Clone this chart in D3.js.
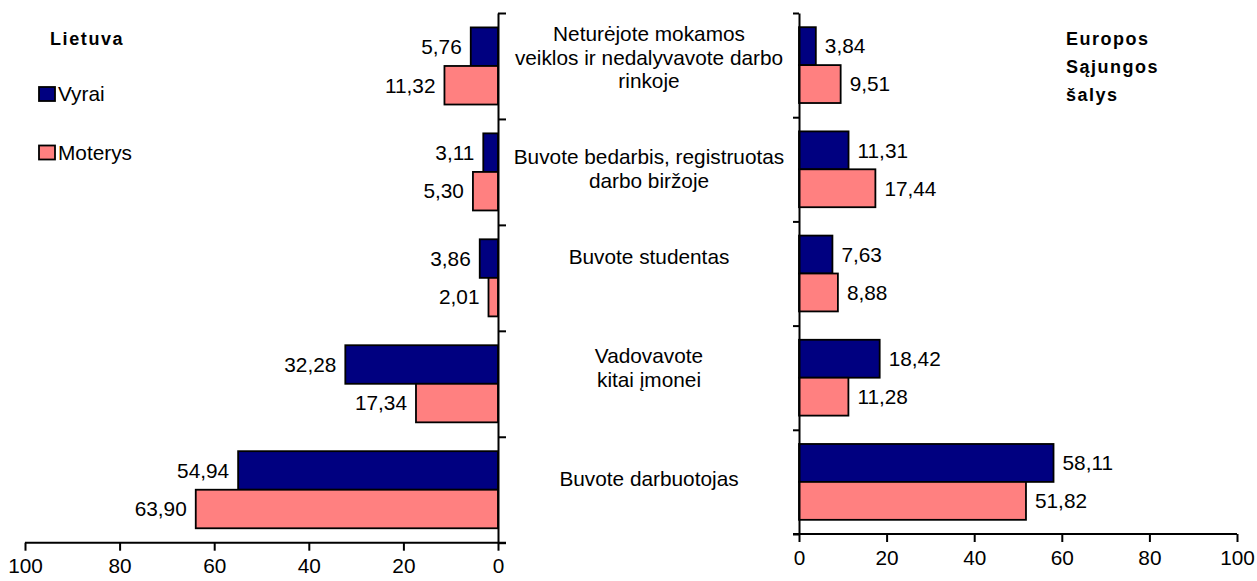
<!DOCTYPE html>
<html>
<head>
<meta charset="utf-8">
<script src="https://cdn.jsdelivr.net/npm/d3@7"></script>
<style>
  html, body { margin: 0; padding: 0; background: #fff; }
  svg { display: block; font-family: "Liberation Sans", Arial, sans-serif; }
</style>
</head>
<body>
<svg id="chart" width="1257" height="581"></svg>
<script>
// ---- data ----
const categories = [
  "Neturėjote mokamos veiklos ir nedalyvavote darbo rinkoje",
  "Buvote bedarbis, registruotas darbo biržoje",
  "Buvote studentas",
  "Vadovavote kitai įmonei",
  "Buvote darbuotojas"
];
const categoryLines = [
  ["Neturėjote mokamos", "veiklos ir nedalyvavote darbo", "rinkoje"],
  ["Buvote bedarbis, registruotas", "darbo biržoje"],
  ["Buvote studentas"],
  ["Vadovavote", "kitai įmonei"],
  ["Buvote darbuotojas"]
];
const series = ["Vyrai", "Moterys"];
const ltVyrai   = [5.76, 3.11, 3.86, 32.28, 54.94];
const ltMoterys = [11.32, 5.30, 2.01, 17.34, 63.90];
const esVyrai   = [3.84, 11.31, 7.63, 18.42, 58.11];
const esMoterys = [9.51, 17.44, 8.88, 11.28, 51.82];
const xTicks = [0, 20, 40, 60, 80, 100];
const leftTitle = "Lietuva";
const rightTitle = ["Europos", "Sąjungos", "šalys"];

// ---- layout ----
const colors = { "Vyrai": "#000080", "Moterys": "#FF8080" };
const svg = d3.select("#chart");
const FONT = 20.8;
const fmt = v => d3.format(".2f")(v).replace(".", ",");

function panel(opts) {
  const { x, yTop, yBottom, valuesV, valuesM, side } = opts;
  const y = d3.scaleBand().domain(categories).range([yTop, yBottom]).paddingInner(0).paddingOuter(0);
  const yS = d3.scaleBand().domain(series).range([0, y.bandwidth()]).paddingInner(0).paddingOuter(0.374);
  const g = svg.append("g");
  const rows = categories.map((c, i) => ({ c, i, vals: [
    { s: "Vyrai", v: valuesV[i] }, { s: "Moterys", v: valuesM[i] }
  ]}));
  const zero = x(0);
  const grp = g.selectAll("g.row").data(rows).join("g")
    .attr("transform", d => `translate(0,${y(d.c)})`);
  grp.selectAll("rect").data(d => d.vals).join("rect")
    .attr("x", d => Math.min(zero, x(d.v)))
    .attr("width", d => Math.abs(x(d.v) - zero))
    .attr("y", d => yS(d.s))
    .attr("height", yS.bandwidth())
    .attr("fill", d => colors[d.s])
    .attr("stroke", "#000").attr("stroke-width", 1.8);
  grp.selectAll("text").data(d => d.vals).join("text")
    .attr("x", d => side === "left" ? x(d.v) - 9 : x(d.v) + 9)
    .attr("y", d => yS(d.s) + yS.bandwidth() / 2)
    .attr("dy", "0.35em")
    .attr("text-anchor", side === "left" ? "end" : "start")
    .attr("font-size", FONT)
    .attr("fill", "#000")
    .text(d => fmt(d.v));

  // bottom axis
  const ax = d3.axisBottom(x).tickValues(xTicks).tickSize(8).tickSizeOuter(0).tickPadding(8).tickFormat(d3.format("d"));
  const axG = g.append("g").attr("transform", `translate(0,${yBottom})`).call(ax);
  axG.select(".domain").remove();
  axG.selectAll(".tick line").attr("stroke", "#000").attr("stroke-width", 2);
  axG.selectAll(".tick text").attr("font-size", FONT).attr("fill", "#000")
    .attr("font-family", "Liberation Sans, Arial, sans-serif");
  const x100 = x(100), ext = side === "left" ? zero + 8 : zero - 6;
  g.append("line").attr("x1", x100).attr("x2", ext).attr("y1", yBottom).attr("y2", yBottom)
    .attr("stroke", "#000").attr("stroke-width", 2);

  // vertical category axis
  const yl = d3.scaleLinear().domain([0, categories.length]).range([yTop, yBottom]);
  const vax = (side === "left" ? d3.axisRight(yl) : d3.axisLeft(yl))
    .tickValues(d3.range(categories.length + 1)).tickSize(side === "left" ? 8 : 6).tickSizeOuter(0).tickFormat("");
  const vG = g.append("g").attr("transform", `translate(${zero},0)`).call(vax);
  vG.select(".domain").attr("stroke", "#000").attr("stroke-width", 2);
  vG.selectAll(".tick line").attr("stroke", "#000").attr("stroke-width", 2);
  return y;
}

const xL = d3.scaleLinear().domain([0, 100]).range([498, 25]);
const xR = d3.scaleLinear().domain([0, 100]).range([799, 1237]);
const yLeft = panel({ x: xL, yTop: 13, yBottom: 542.7, valuesV: ltVyrai, valuesM: ltMoterys, side: "left" });
const yRight = panel({ x: xR, yTop: 13, yBottom: 534, valuesV: esVyrai, valuesM: esMoterys, side: "right" });

// category labels in the middle
const labelNudge = [-8, -2, -19, -13, -7];
const lineH = 23.5;
const midX = 649;
const catG = svg.append("g");
categories.forEach((c, i) => {
  const cy = (yLeft(c) + yLeft.bandwidth() / 2 + yRight(c) + yRight.bandwidth() / 2) / 2 + labelNudge[i];
  const lines = categoryLines[i];
  const t = catG.append("text").attr("text-anchor", "middle").attr("font-size", FONT).attr("fill", "#000");
  lines.forEach((ln, j) => {
    t.append("tspan").attr("x", midX)
      .attr("y", cy + (j - (lines.length - 1) / 2) * lineH)
      .attr("dy", "0.35em").text(ln);
  });
});

// titles
svg.append("text").attr("x", 50).attr("y", 45).attr("font-size", 18).attr("font-weight", "bold")
  .attr("letter-spacing", 1.6).text(leftTitle);
const rt = svg.append("text").attr("font-size", 18).attr("font-weight", "bold").attr("letter-spacing", 1.5);
rightTitle.forEach((ln, j) => rt.append("tspan").attr("x", 1066).attr("y", 45 + j * 28).text(ln));

// legend
const leg = svg.append("g");
series.forEach((s, i) => {
  const yy = 87 + i * 58.5;
  leg.append("rect").attr("x", 39).attr("y", yy).attr("width", 16).attr("height", 14)
    .attr("fill", colors[s]).attr("stroke", "#000").attr("stroke-width", 1.8);
  leg.append("text").attr("x", 58).attr("y", yy + 14).attr("font-size", FONT).attr("fill", "#000").text(s);
});
</script>
</body>
</html>
